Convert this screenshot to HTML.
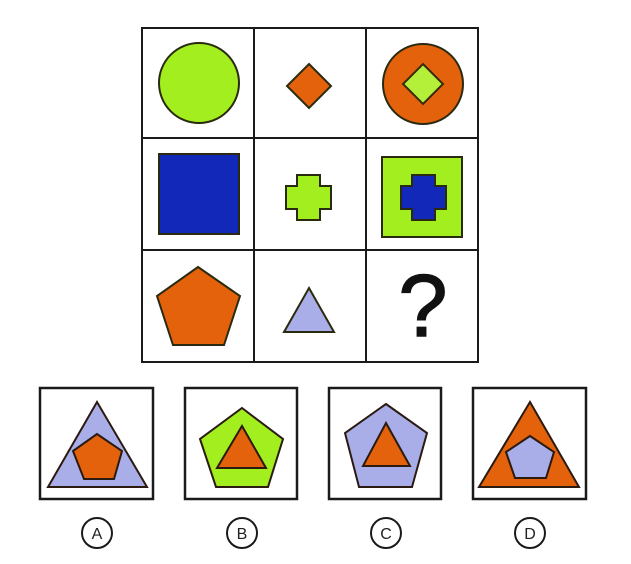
<!DOCTYPE html>
<html><head><meta charset="utf-8"><style>
html,body{margin:0;padding:0;background:#fff;}
svg{display:block;}
text{font-family:"Liberation Sans",sans-serif;}
</style></head><body>
<svg width="631" height="564" viewBox="0 0 631 564">
<g fill="none" stroke="#1a1a1a" stroke-width="2">
<rect x="142" y="28" width="336" height="334"/>
<line x1="254" y1="28" x2="254" y2="362"/>
<line x1="366" y1="28" x2="366" y2="362"/>
<line x1="142" y1="138" x2="478" y2="138"/>
<line x1="142" y1="250" x2="478" y2="250"/>
</g>
<g stroke="#2a2a10" stroke-width="2">
<circle cx="199" cy="83" r="40" fill="#a2ee1e"/>
<polygon points="309,64 331,86 309,108 287,86" fill="#e5620c"/>
<circle cx="423" cy="84" r="40" fill="#e5620c"/>
<polygon points="423,64 443,84 423,104 403,84" fill="#b4f03a" stroke="#3a2a10"/>
<rect x="159" y="154" width="80" height="80" fill="#1228b8"/>
<polygon points="297,175 320,175 320,186 331,186 331,209 320,209 320,220 297,220 297,209 286,209 286,186 297,186" fill="#a2ee1e"/>
<rect x="382" y="157" width="80" height="80" fill="#a2ee1e"/>
<polygon points="412,175 435,175 435,186 446,186 446,209 435,209 435,220 412,220 412,209 401,209 401,186 412,186" fill="#1228b8"/>
<polygon points="198,267 240,296 224,345 173,345 157,296" fill="#e5620c"/>
<polygon points="309,288 334,332 284,332" fill="#a9aee8"/>
</g>
<text x="423" y="336" font-size="88" text-anchor="middle" fill="#111" stroke="#111" stroke-width="1.5">?</text>

<g stroke="#1a1a1a" stroke-width="2.5" fill="none">
<rect x="40" y="388" width="113" height="111"/>
<rect x="185" y="388" width="112" height="111"/>
<rect x="329" y="388" width="112" height="111"/>
<rect x="473" y="388" width="113" height="111"/>
</g>
<g stroke="#2a1a10" stroke-width="2">
<polygon points="97,402 147,487 48,487" fill="#a9aee8"/>
<polygon points="97,434 122,451 114,479 84,479 73,451" fill="#e5620c"/>
<polygon points="242,408 283,439 268,487 216,487 200,439" fill="#a2ee1e"/>
<polygon points="242,426 266,468 217,468" fill="#e5620c"/>
<polygon points="386,404 427,433 412,487 359,487 345,433" fill="#a9aee8"/>
<polygon points="386,423 410,466 363,466" fill="#e5620c"/>
<polygon points="530,402 579,487 479,487" fill="#e5620c"/>
<polygon points="530,436 554,452 546,478 515,478 506,452" fill="#a9aee8"/>
</g>
<g fill="none" stroke="#1a1a1a" stroke-width="2">
<circle cx="97" cy="533" r="15"/>
<circle cx="242" cy="533" r="15"/>
<circle cx="386" cy="533" r="15"/>
<circle cx="530" cy="533" r="15"/>
</g>
<g font-size="16" text-anchor="middle" fill="#222">
<text x="97" y="539">A</text>
<text x="242" y="539">B</text>
<text x="386" y="539">C</text>
<text x="530" y="539">D</text>
</g>
</svg>
</body></html>
